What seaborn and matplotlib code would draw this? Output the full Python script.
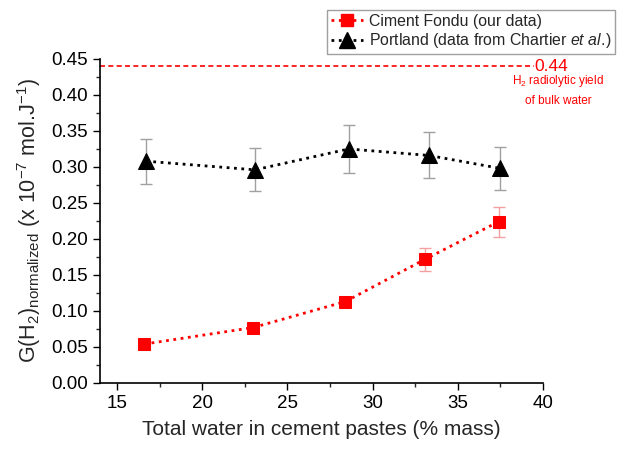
import matplotlib
matplotlib.use("Agg")
import matplotlib.pyplot as plt
import seaborn as sns
import pandas as pd
from matplotlib.ticker import MultipleLocator
from matplotlib.lines import Line2D

# Data
cf_water = [16.6, 23.0, 28.4, 33.1, 37.4]
cf_g = [0.054, 0.077, 0.113, 0.172, 0.224]
cf_err = [0.003, 0.003, 0.005, 0.016, 0.021]

pt_water = [16.7, 23.1, 28.6, 33.3, 37.5]
pt_g = [0.308, 0.296, 0.325, 0.316, 0.298]
pt_err = [0.031, 0.030, 0.033, 0.032, 0.030]

bulk_yield = 0.44

sns.set_style("ticks")
plt.rcParams['font.family'] = ['Liberation Sans', 'DejaVu Sans']
plt.rcParams['mathtext.fontset'] = 'custom'
plt.rcParams['mathtext.rm'] = 'Liberation Sans'
plt.rcParams['mathtext.it'] = 'Liberation Sans:italic'
plt.rcParams['mathtext.default'] = 'regular'

fig = plt.figure(figsize=(6.17, 4.5), dpi=100)
ax = fig.add_axes([0.162, 0.149, 0.718, 0.72])

df_cf = pd.DataFrame({"x": cf_water, "y": cf_g})
df_pt = pd.DataFrame({"x": pt_water, "y": pt_g})

ax.errorbar(cf_water, cf_g, yerr=cf_err, fmt='none', ecolor='#f4a0a0', elinewidth=1, capsize=4, capthick=1, zorder=2)
ax.errorbar(pt_water, pt_g, yerr=pt_err, fmt='none', ecolor='#a0a0a0', elinewidth=1, capsize=4, capthick=1, zorder=2)

sns.lineplot(data=df_cf, x="x", y="y", ax=ax, color='red', linestyle=':', linewidth=2,
             marker='s', markersize=9, markeredgecolor='red', markerfacecolor='red', zorder=3)
sns.lineplot(data=df_pt, x="x", y="y", ax=ax, color='black', linestyle=':', linewidth=2,
             marker='^', markersize=11, markeredgecolor='black', markerfacecolor='black', zorder=3)

ax.axhline(bulk_yield, xmin=0, xmax=0.98, color='red', linestyle=(0, (3, 2)), linewidth=1.2, clip_on=False)
ax.text(39.5, bulk_yield, "0.44", color='red', fontsize=12.5, va='center', ha='left')
ax.text(40.9, 0.43, "H$_2$ radiolytic yield\nof bulk water", color='red', fontsize=8.5,
        va='top', ha='center', linespacing=1.6)

ax.set_xlim(14, 40)
ax.set_ylim(0, 0.45)
ax.xaxis.set_major_locator(MultipleLocator(5))
ax.xaxis.set_minor_locator(MultipleLocator(2.5))
ax.yaxis.set_major_locator(MultipleLocator(0.05))
ax.yaxis.set_minor_locator(MultipleLocator(0.025))
ax.yaxis.set_major_formatter(matplotlib.ticker.FormatStrFormatter('%.2f'))
ax.tick_params(which='major', direction='out', length=5, width=1, labelsize=13.5, colors='black')
ax.tick_params(which='minor', direction='out', length=3, width=1)
for s in ['top', 'right']:
    ax.spines[s].set_visible(False)
for s in ['left', 'bottom']:
    ax.spines[s].set_linewidth(1.2)
    ax.spines[s].set_color('black')

ax.set_xlabel("Total water in cement pastes (% mass)", fontsize=15, labelpad=6)
ax.set_ylabel("G(H$_2$)$_{normalized}$ (x 10$^{-7}$ mol.J$^{-1}$)", fontsize=15.5, labelpad=6)

handles = [
    Line2D([], [], color='red', linestyle=':', linewidth=2, marker='s', markersize=9),
    Line2D([], [], color='black', linestyle=':', linewidth=2, marker='^', markersize=11),
]
labels = ["Ciment Fondu (our data)", "Portland (data from Chartier $\\mathit{et\\ al.}$$\\!$)"]
fig.legend(handles, labels, loc='upper left', bbox_to_anchor=(0.525, 0.985), fontsize=11.4,
           frameon=True, fancybox=False, edgecolor='#888888', handlelength=2.0,
           borderpad=0.25, labelspacing=0.15, handletextpad=0.4, borderaxespad=0.2)

fig.savefig("out.png", dpi=100)
